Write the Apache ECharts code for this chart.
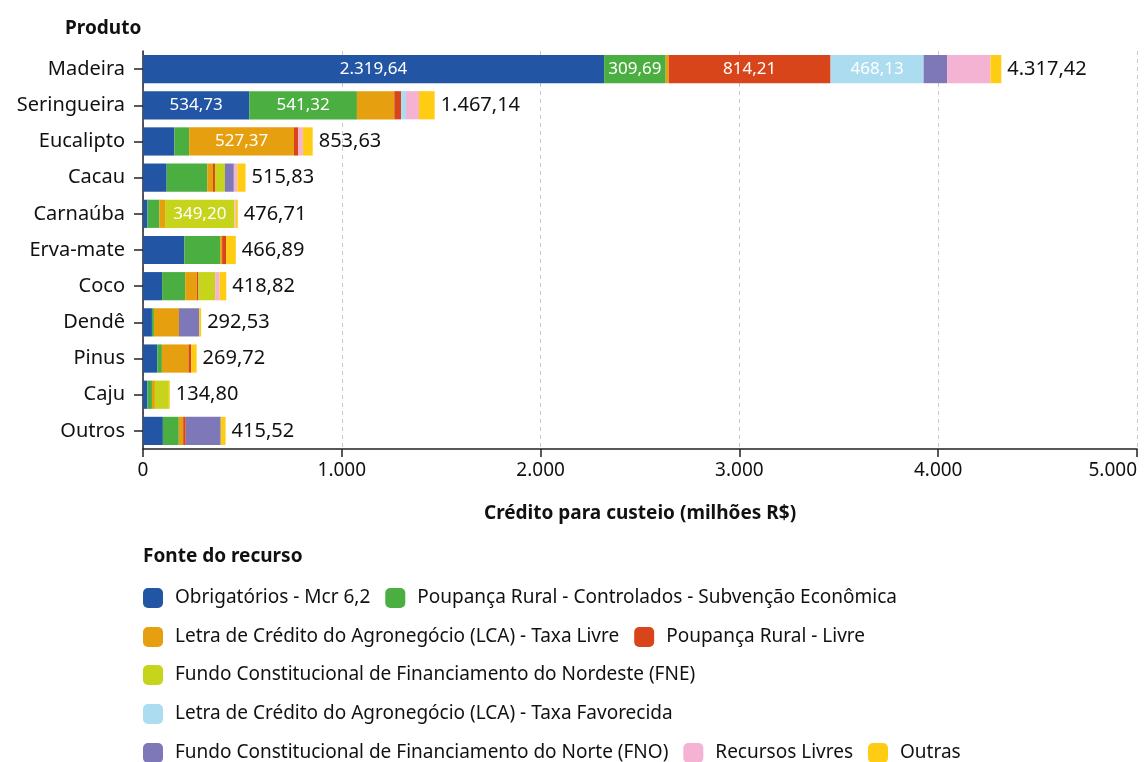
<!DOCTYPE html>
<html>
<head>
<meta charset="utf-8">
<script src="https://cdn.jsdelivr.net/npm/echarts@6/dist/echarts.min.js"></script>
<style>
  html, body { margin: 0; padding: 0; background: #fff; }
  #main { width: 1148px; height: 762px; }
</style>
</head>
<body>
<div id="main"></div>
<script>
// produtos (de cima para baixo)
var produtos = ['Madeira', 'Seringueira', 'Eucalipto', 'Cacau', 'Carnaúba', 'Erva-mate', 'Coco', 'Dendê', 'Pinus', 'Caju', 'Outros'];

// fontes do recurso
var fontes = [
    'Obrigatórios - Mcr 6,2',
    'Poupança Rural - Controlados - Subvenção Econômica',
    'Letra de Crédito do Agronegócio (LCA) - Taxa Livre',
    'Poupança Rural - Livre',
    'Fundo Constitucional de Financiamento do Nordeste (FNE)',
    'Letra de Crédito do Agronegócio (LCA) - Taxa Favorecida',
    'Fundo Constitucional de Financiamento do Norte (FNO)',
    'Recursos Livres',
    'Outras'
];

// valores (milhões R$), na ordem dos produtos
var obrigatorios = [2319.64, 534.73, 158, 119, 22, 208, 96, 45, 72, 22, 100];
var poupancaCtrl = [309.69, 541.32, 74, 204, 60, 180, 116, 10, 23, 23, 80];
var lcaLivre = [15, 188, 527.37, 29, 29, 10, 59, 126, 134, 15, 22];
var poupancaLivre = [814.21, 34, 22, 10, 0, 20, 8, 0, 13, 0, 13];
var fne = [0, 0, 0, 50, 349.20, 0, 84, 0, 0, 70, 0];
var lcaFavorecida = [468.13, 25, 0, 0, 0, 0, 0, 0, 0, 0, 0];
var fno = [118, 0, 0, 45, 0, 0, 0, 102, 0, 0, 176];
var recursosLivres = [218, 65, 23, 17, 6, 0, 22, 0, 0, 0, 0];
var outras = [54.75, 79.09, 49.26, 41.83, 10.51, 48.89, 33.82, 9.53, 27.72, 4.8, 24.52];

var xTicks = [0, 1000, 2000, 3000, 4000, 5000];

var valores = [obrigatorios, poupancaCtrl, lcaLivre, poupancaLivre, fne, lcaFavorecida, fno, recursosLivres, outras];
var cores = ['#2355a5', '#4bae41', '#e6a00f', '#d9451b', '#c6d41b', '#acdcef', '#7f78b8', '#f4b3d2', '#ffcc14'];

var FONT = 'Noto Sans';

function fmt(v, dec) {
    var s = v.toFixed(dec);
    var parts = s.split('.');
    var inteiro = parts[0].replace(/\B(?=(\d{3})+(?!\d))/g, '.');
    return parts.length > 1 ? inteiro + ',' + parts[1] : inteiro;
}

var totais = produtos.map(function (p, i) {
    var t = 0;
    valores.forEach(function (arr) { t += arr[i]; });
    return Math.round(t * 100) / 100;
});

var series = fontes.map(function (nome, k) {
    var ultima = k === fontes.length - 1;
    return {
        name: nome,
        type: 'bar',
        stack: 'total',
        barCategoryGap: '22%',
        itemStyle: { color: cores[k] },
        emphasis: { disabled: true },
        data: valores[k].map(function (v, i) {
            var item = { value: v };
            if (v >= 300) {
                item.label = {
                    show: true,
                    position: 'inside',
                    color: '#fff',
                    fontFamily: FONT,
                    fontSize: 17,
                    formatter: function (p) { return fmt(p.value, 2); }
                };
            }
            if (ultima) {
                item.label = {
                    show: true,
                    position: 'right',
                    distance: 6,
                    color: '#111',
                    fontFamily: FONT,
                    fontSize: 20,
                    formatter: function () { return fmt(totais[i], 2); }
                };
            }
            return item;
        })
    };
});

var legendRows = [[0, 1], [2, 3], [4], [5], [6, 7, 8]];
var legendTops = [588, 627, 665, 704, 743];
var legends = legendRows.map(function (row, r) {
    return {
        left: 143,
        top: legendTops[r],
        padding: 0,
        orient: 'horizontal',
        itemWidth: 20,
        itemHeight: 20,
        itemGap: 15,
        icon: 'roundRect',
        selectedMode: false,
        data: row.map(function (k) { return fontes[k]; }),
        textStyle: { fontFamily: FONT, fontSize: 19, color: '#111', padding: [0, 0, 0, 7] }
    };
});

var dom = document.getElementById('main');
var chart = echarts.init(dom, null, { renderer: 'canvas' });

var option = {
    backgroundColor: '#fff',
    animation: false,
    title: [
        {
            text: 'Produto',
            left: 60,
            top: 14,
            textStyle: { fontFamily: FONT, fontSize: 19, fontWeight: 'bold', color: '#111' }
        },
        {
            text: 'Fonte do recurso',
            left: 138,
            top: 542,
            textStyle: { fontFamily: FONT, fontSize: 19, fontWeight: 'bold', color: '#111' }
        }
    ],
    legend: legends,
    grid: {
        left: 143,
        right: 11,
        top: 51,
        height: 398,
        outerBoundsMode: 'none',
        containLabel: false
    },
    xAxis: {
        type: 'value',
        min: 0,
        max: 5000,
        interval: 1000,
        name: 'Crédito para custeio (milhões R$)',
        nameLocation: 'middle',
        nameGap: 55,
        nameTextStyle: { fontFamily: FONT, fontSize: 19, fontWeight: 'bold', color: '#111' },
        axisLine: { show: true, lineStyle: { color: '#222', width: 1.5 } },
        axisTick: { show: true, length: 8, lineStyle: { color: '#222', width: 1.5 } },
        axisLabel: {
            margin: 12,
            fontFamily: FONT,
            fontSize: 19,
            color: '#111',
            alignMaxLabel: 'right',
            formatter: function (v) { return xTicks.indexOf(v) >= 0 ? fmt(v, 0) : ''; }
        },
        splitLine: { show: true, lineStyle: { color: '#c8c8c8', type: [4, 4] } }
    },
    yAxis: {
        type: 'category',
        data: produtos,
        inverse: true,
        axisLine: { show: true, lineStyle: { color: '#222', width: 1.5 } },
        axisTick: { show: true, alignWithLabel: true, length: 9, lineStyle: { color: '#222', width: 1.5 } },
        axisLabel: { margin: 18, fontFamily: FONT, fontSize: 20, color: '#111' },
        splitLine: { show: false }
    },
    series: series
};

chart.setOption(option);
</script>
</body>
</html>
